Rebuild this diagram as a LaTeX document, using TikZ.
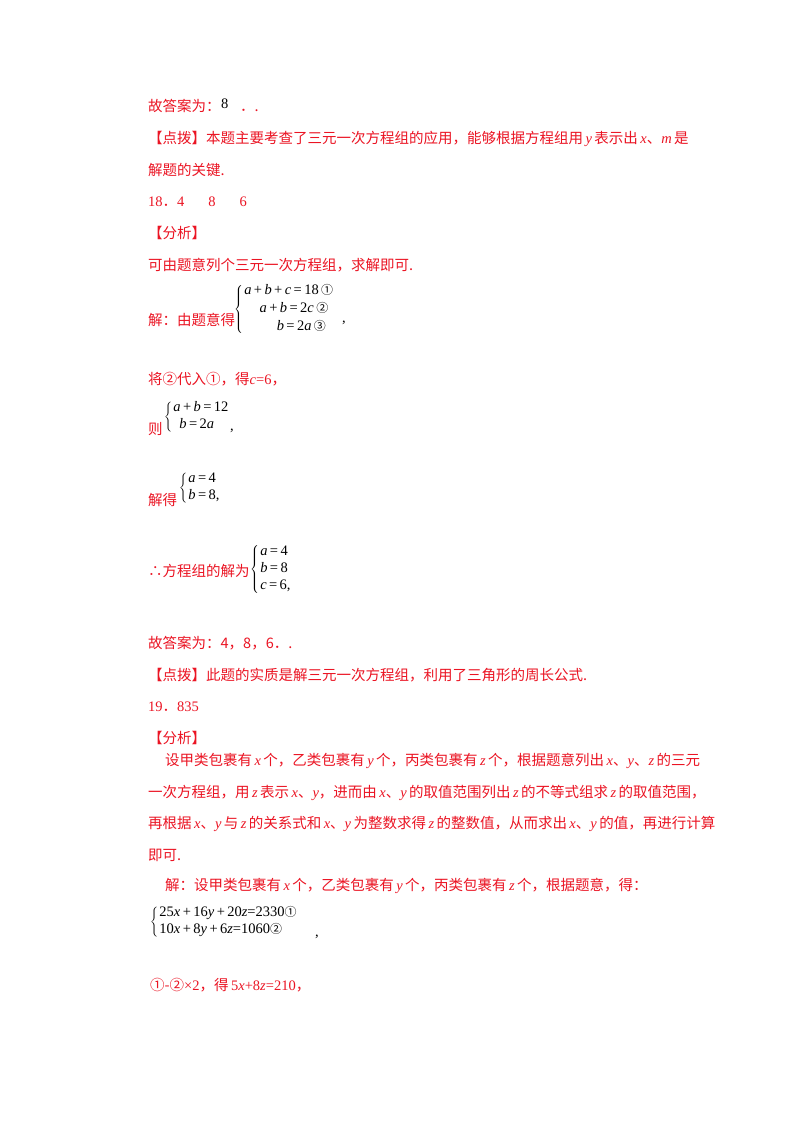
\documentclass[tikz,border=0pt]{standalone}
\usepackage{fontspec}
\setmainfont{Noto Sans CJK SC}
\newfontfamily\tn{Liberation Serif}
\newfontfamily\cj{Noto Sans CJK SC}
\newcommand\mi[1]{{\tn\itshape #1}}
\newcommand\mn[1]{{\tn #1}}
\newcommand\ci[1]{{\cj\fontsize{12}{14}\selectfont #1}}
\definecolor{rd}{RGB}{235,20,35}
\tikzset{
  txt/.style={anchor=base west,inner sep=0pt,text=rd,font=\fontsize{14.5}{16}\selectfont},
  blk/.style={anchor=base west,inner sep=0pt,text=black,font=\fontsize{14.5}{16}\selectfont},
  sys/.style={anchor=west,inner sep=0pt,text=black,font=\fontsize{14.5}{16}\selectfont}
}
\begin{document}
\begin{tikzpicture}[x=1pt,y=-1pt]
\useasboundingbox[fill=white] (0,0) rectangle (800,1132);
\node[txt] (l1) at (148,111) {故答案为：};
\node[blk] (l1b) at (221,108) {\mn{8}};
\node[txt] (l1c) at (240,111) {．.};
\node[txt] (l2) at (148,143) {【点拨】本题主要考查了三元一次方程组的应用，能够根据方程组用\,\mi{y}\,表示出\,\mi{x}、\mi{m}\,是};
\node[txt] (l3) at (148,175) {解题的关键.};
\node[txt] (l4) at (148,206) {\mn{18}．\mn{4\hspace{24pt}8\hspace{24pt}6}};
\node[txt] (l5) at (148,238) {【分析】};
\node[txt] (l6) at (148,270) {可由题意列个三元一次方程组，求解即可.};
\node[txt] (l7) at (148,325) {解：由题意得};
\node[sys] (s1) at (234,309) {$\left\{\vphantom{\rule{0pt}{30pt}}\right.$\begin{tabular}{@{}r@{}l@{}}
\mi{a}\mn{\,+\,}\mi{b}\mn{\,+\,}\mi{c}\mn{\,=\,18\,}\ci{①}&\\[2pt]
\mi{a}\mn{\,+\,}\mi{b}\mn{\,=\,2}\mi{c}\mn{\,}\ci{②}\mn{\,\,}&\\[2pt]
\mi{b}\mn{\,=\,2}\mi{a}\mn{\,}\ci{③}\mn{\,\,\,}&
\end{tabular}};
\node[blk] (c1) at (342,322) {\mn{,}};
\node[txt] (l8) at (148,384) {将②代入①，得\mi{c}\mn{=6}，};
\node[txt] (l9) at (148,434) {则};
\node[sys] (s2) at (164,417) {$\left\{\vphantom{\rule{0pt}{18pt}}\right.$\begin{tabular}{@{}l@{}}
\mi{a}\mn{\,+\,}\mi{b}\mn{\,=\,12}\\[1pt]
\hspace{6pt}\mi{b}\mn{\,=\,2}\mi{a}
\end{tabular}};
\node[blk] (c2) at (230,430) {\mn{,}};
\node[txt] (l10) at (148,505) {解得};
\node[sys] (s3) at (179,488) {$\left\{\vphantom{\rule{0pt}{18pt}}\right.$\begin{tabular}{@{}l@{}}
\mi{a}\mn{\,=\,4}\\[1pt]
\mi{b}\mn{\,=\,8}\mn{,}
\end{tabular}};
\node[txt] (l11) at (148,576) {∴方程组的解为};
\node[sys] (s4) at (250,569) {$\left\{\vphantom{\rule{0pt}{29pt}}\right.$\begin{tabular}{@{}l@{}}
\mi{a}\mn{\,=\,4}\\[1pt]
\mi{b}\mn{\,=\,8}\\[1pt]
\mi{c}\mn{\,=\,6}\mn{,}
\end{tabular}};
\node[txt] (l12) at (148,648) {故答案为：4，8，6．.};
\node[txt] (l13) at (148,680) {【点拨】此题的实质是解三元一次方程组，利用了三角形的周长公式.};
\node[txt] (l14) at (148,711) {\mn{19}．\mn{835}};
\node[txt] (l15) at (148,743) {【分析】};
\node[txt] (p1) at (165,765) {设甲类包裹有\,\mi{x}\,个，乙类包裹有\,\mi{y}\,个，丙类包裹有\,\mi{z}\,个，根据题意列出\,\mi{x}、\mi{y}、\mi{z}\,的三元};
\node[txt] (p2) at (148,797) {一次方程组，用\,\mi{z}\,表示\,\mi{x}、\mi{y}，进而由\,\mi{x}、\mi{y}\,的取值范围列出\,\mi{z}\,的不等式组求\,\mi{z}\,的取值范围，};
\node[txt] (p3) at (148,828) {再根据\,\mi{x}、\mi{y}\,与\,\mi{z}\,的关系式和\,\mi{x}、\mi{y}\,为整数求得\,\mi{z}\,的整数值，从而求出\,\mi{x}、\mi{y}\,的值，再进行计算};
\node[txt] (p4) at (148,860) {即可.};
\node[txt] (l20) at (165,890) {解：设甲类包裹有\,\mi{x}\,个，乙类包裹有\,\mi{y}\,个，丙类包裹有\,\mi{z}\,个，根据题意，得：};
\node[sys] (s5) at (150,922) {$\left\{\vphantom{\rule{0pt}{18pt}}\right.$\begin{tabular}{@{}l@{}}
\mn{25}\mi{x}\mn{\,+\,16}\mi{y}\mn{\,+\,20}\mi{z}\mn{=2330}\ci{①}\\[1pt]
\mn{10}\mi{x}\mn{\,+\,8}\mi{y}\mn{\,+\,6}\mi{z}\mn{=1060}\ci{②}
\end{tabular}};
\node[blk] (c5) at (315,936) {\mn{,}};
\node[txt] (l22) at (150,990) {①-②\mn{×2}，得\,\mn{5}\mi{x}\mn{+8}\mi{z}\mn{=210}，};
\end{tikzpicture}
\end{document}
